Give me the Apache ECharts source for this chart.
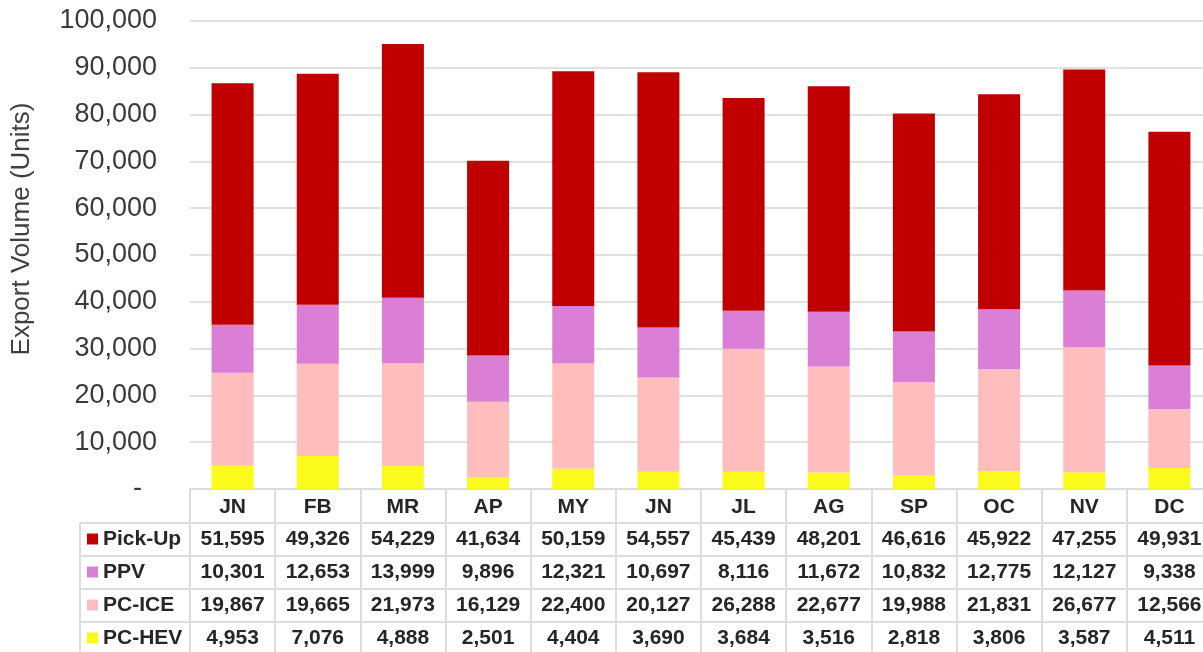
<!DOCTYPE html>
<html>
<head>
<meta charset="utf-8">
<script src="https://cdn.jsdelivr.net/npm/echarts@6/dist/echarts.min.js"></script>
<style>
html,body{margin:0;padding:0;background:#fff;}
#chart{width:1203px;height:652px;}
</style>
</head>
<body>
<div id="chart"></div>
<script>
var categories = ['JN','FB','MR','AP','MY','JN','JL','AG','SP','OC','NV','DC'];
var pickUp = [51595,49326,54229,41634,50159,54557,45439,48201,46616,45922,47255,49931];
var ppv    = [10301,12653,13999,9896,12321,10697,8116,11672,10832,12775,12127,9338];
var pcIce  = [19867,19665,21973,16129,22400,20127,26288,22677,19988,21831,26677,12566];
var pcHev  = [4953,7076,4888,2501,4404,3690,3684,3516,2818,3806,3587,4511];
var seriesNames = ['Pick-Up','PPV','PC-ICE','PC-HEV'];
var yTicks = {min:0, max:100000, interval:10000};
var yTitle = 'Export Volume (Units)';

var colors = {'Pick-Up':'#C00000','PPV':'#DA7ED6','PC-ICE':'#FFBDBD','PC-HEV':'#FAFA1C'};
var rows = {'Pick-Up':pickUp,'PPV':ppv,'PC-ICE':pcIce,'PC-HEV':pcHev};
var fmt = function(v){return v.toLocaleString('en-US');};
var border = '#DCDCDC';
var FONT = 'Liberation Sans, Arial, sans-serif';
var tableFont = {fontFamily:FONT, fontWeight:'bold', fontSize:21, color:'#262626'};

var chart = echarts.init(document.getElementById('chart'), null, {renderer:'canvas'});

var gridLeft = 190, gridTop = 21, gridHeight = 468, gridWidth = 1022;
var rowH = 33;
var tableTop = gridTop + gridHeight;

var xAxes = [{
  type:'category', data:categories, gridIndex:0, position:'bottom',
  axisLine:{show:true, lineStyle:{color:border, width:2}},
  axisTick:{show:true, length:170, lineStyle:{color:border, width:2}},
  axisLabel:Object.assign({margin:18, verticalAlign:'middle', interval:0}, tableFont),
  splitLine:{show:false}
}];
seriesNames.forEach(function(name, i){
  xAxes.push({
    type:'category', data:rows[name].map(fmt), gridIndex:0, position:'bottom',
    offset: 34 + rowH*i,
    axisLine:{show:true, lineStyle:{color:border, width:2}},
    axisTick:{show:false},
    axisLabel:Object.assign({margin:16, verticalAlign:'middle', interval:0}, tableFont),
    splitLine:{show:false}
  });
});

var stackOrder = ['PC-HEV','PC-ICE','PPV','Pick-Up'];
var series = stackOrder.map(function(name){
  return {
    name:name, type:'bar', stack:'total', xAxisIndex:0, yAxisIndex:0,
    data:rows[name], barWidth:42,
    itemStyle:{color:colors[name]},
    emphasis:{disabled:true}
  };
});

var graphics = [];
// legend column borders
graphics.push({type:'line', shape:{x1:80,y1:tableTop+34,x2:80,y2:660}, style:{stroke:border,lineWidth:2}});
for (var i=0;i<5;i++){
  var y = tableTop+34+rowH*i;
  graphics.push({type:'line', shape:{x1:80,y1:y,x2:gridLeft,y2:y}, style:{stroke:border,lineWidth:2}});
}
// legend keys
seriesNames.forEach(function(name, i){
  var cy = tableTop + 50 + rowH*i;
  graphics.push({type:'rect', shape:{x:87, y:cy-5.5, width:11, height:11}, style:{fill:colors[name]}});
  graphics.push({type:'text', x:103, y:cy, style:{text:name, font:'bold 21px ' + FONT, fill:'#262626', textVerticalAlign:'middle', verticalAlign:'middle'}});
});
// y axis title
graphics.push({type:'text', x:22, y:229, rotation:Math.PI/2,
  style:{text:yTitle, font:'26px ' + FONT, fill:'#404040', align:'center', verticalAlign:'middle', textAlign:'center', textVerticalAlign:'middle'}});

chart.setOption({
  animation:false,
  backgroundColor:'#fff',
  grid:{left:gridLeft, top:gridTop, width:gridWidth, height:gridHeight, containLabel:false, outerBoundsMode:'none'},
  xAxis:xAxes,
  yAxis:{
    type:'value', min:yTicks.min, max:yTicks.max, interval:yTicks.interval,
    axisLine:{show:false}, axisTick:{show:false},
    axisLabel:{
      margin:33, fontFamily:FONT, fontSize:27, color:'#3a3a3a',
      formatter:function(v){return v===0 ? '-  ' : fmt(v);}
    },
    splitLine:{lineStyle:{color:'#E0E0E0', width:2}}
  },
  series:series,
  graphic:graphics
});
</script>
</body>
</html>
